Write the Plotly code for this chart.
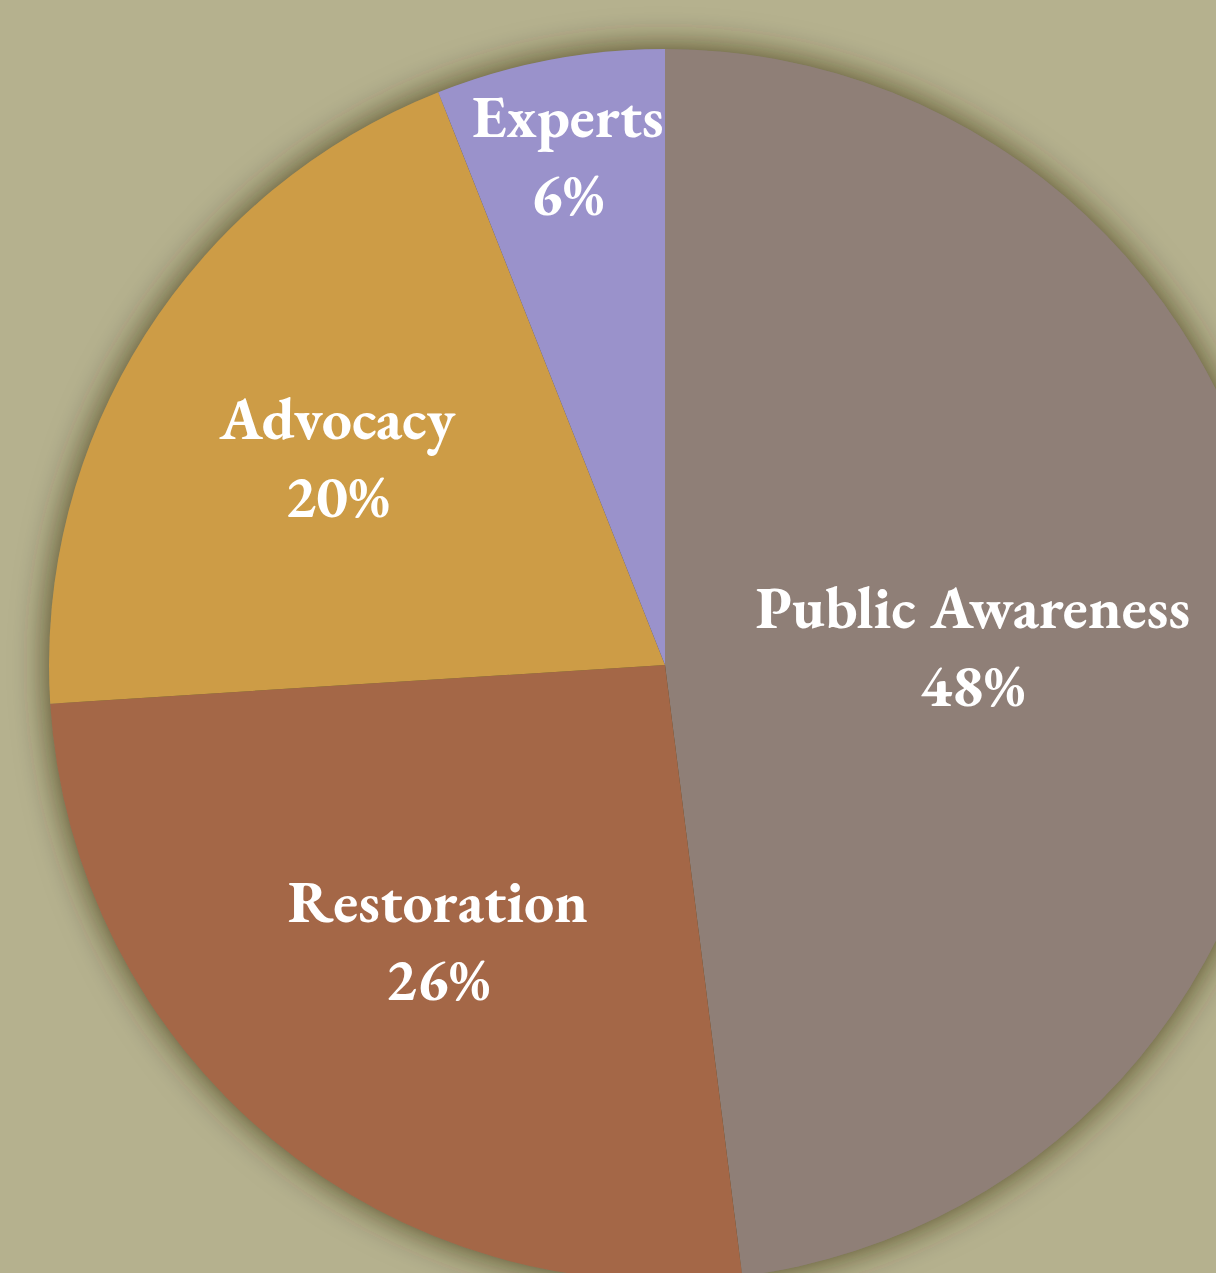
"""Pie chart: share of effort by programme area"""
import plotly.graph_objects as go

# Data
labels = ["Public Awareness", "Restoration", "Advocacy", "Experts"]
values = [48, 26, 20, 6]

# Theme colors
colors = ["#8f7f77", "#a46747", "#cd9c46", "#9a92cb"]
bg_color = "#b5b18e"
shadow_color = "rgba(50, 45, 20, 0.8)"

fig = go.Figure()

# dark copy of the pie underneath, blurred by the post script into a soft shadow
fig.add_trace(go.Pie(
    labels=labels,
    values=values,
    sort=False,
    direction="clockwise",
    rotation=0,
    marker=dict(colors=[shadow_color] * len(values), line=dict(width=0)),
    textinfo="none",
    hoverinfo="skip",
    showlegend=False,
))

fig.add_trace(go.Pie(
    labels=labels,
    values=values,
    sort=False,
    direction="clockwise",
    rotation=0,
    marker=dict(colors=colors, line=dict(width=0)),
    textinfo="label+percent",
    textposition="inside",
    insidetextorientation="horizontal",
    textfont=dict(family="EB Garamond, Garamond, Liberation Serif, serif",
                  size=60, color="white", weight="bold"),
    showlegend=False,
))

fig.update_layout(
    width=1330,
    height=1330,
    autosize=False,
    margin=dict(l=49, r=49, t=49, b=49),
    paper_bgcolor=bg_color,
    plot_bgcolor=bg_color,
    uniformtext=dict(minsize=60, mode="show"),
)

post = """
document.body.style.margin = '0';
document.body.style.overflow = 'hidden';
document.body.style.background = '%s';
var gd = document.getElementById('{plot_id}');
var svg = gd.querySelector('.main-svg');
var ns = 'http://www.w3.org/2000/svg';
var defs = svg.querySelector('defs');
var f = document.createElementNS(ns, 'filter');
f.setAttribute('id', 'pieshadow');
f.setAttribute('x', '-20%%'); f.setAttribute('y', '-20%%');
f.setAttribute('width', '140%%'); f.setAttribute('height', '140%%');
var b = document.createElementNS(ns, 'feGaussianBlur');
b.setAttribute('stdDeviation', '18');
f.appendChild(b);
defs.appendChild(f);
var tr = svg.querySelectorAll('.pielayer .trace');
if (tr.length) { tr[0].setAttribute('filter', 'url(#pieshadow)'); }
""" % bg_color

fig.write_html("out.html", post_script=post)
